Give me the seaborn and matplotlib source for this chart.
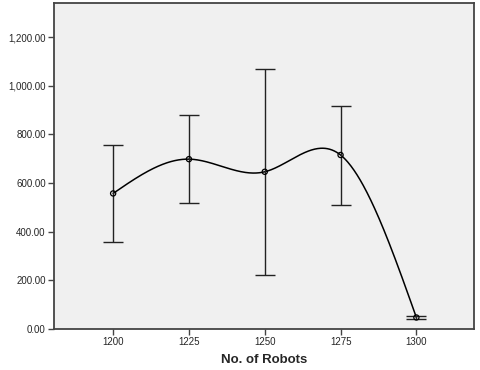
import numpy as np
import pandas as pd
import matplotlib
matplotlib.use("Agg")
import matplotlib.pyplot as plt
import matplotlib.ticker as mticker
import seaborn as sns

robots = [1200, 1225, 1250, 1275, 1300]
mean_val = [557, 698, 646, 715, 47]
upper = [758, 879, 1069, 916, 55]
lower = [357, 516, 223, 510, 40]


def natural_spline(x, y, xs):
    # plain natural cubic spline, like the SPSS interpolation line
    x = np.asarray(x, float)
    y = np.asarray(y, float)
    n = len(x)
    h = np.diff(x)
    A = np.zeros((n, n))
    b = np.zeros(n)
    A[0, 0] = A[-1, -1] = 1
    for i in range(1, n - 1):
        A[i, i - 1] = h[i - 1]
        A[i, i] = 2 * (h[i - 1] + h[i])
        A[i, i + 1] = h[i]
        b[i] = 3 * ((y[i + 1] - y[i]) / h[i] - (y[i] - y[i - 1]) / h[i - 1])
    c = np.linalg.solve(A, b)
    out = np.empty_like(xs)
    for k, xv in enumerate(xs):
        i = min(max(np.searchsorted(x, xv) - 1, 0), n - 2)
        d = xv - x[i]
        bi = (y[i + 1] - y[i]) / h[i] - h[i] * (2 * c[i] + c[i + 1]) / 3
        di = (c[i + 1] - c[i]) / (3 * h[i])
        out[k] = y[i] + bi * d + c[i] * d ** 2 + di * d ** 3
    return out


sns.set_style("ticks")
plt.rcParams["font.family"] = ["Liberation Sans", "DejaVu Sans"]

df = pd.DataFrame({"robots": robots, "mean": mean_val, "upper": upper, "lower": lower})
xs = np.linspace(robots[0], robots[-1], 400)
curve = pd.DataFrame({"robots": xs, "mean": natural_spline(robots, mean_val, xs)})

fig = plt.figure(figsize=(4.8, 3.7), dpi=100)
ax = fig.add_axes([0.1125, 0.111, 0.875, 0.881])
ax.set_facecolor("#f0f0f0")

sns.lineplot(data=curve, x="robots", y="mean", color="black", lw=1.1, ax=ax)
ax.errorbar(df["robots"], df["mean"],
            yerr=[df["mean"] - df["lower"], df["upper"] - df["mean"]],
            fmt="none", ecolor="#222222", elinewidth=1.0, capsize=7, capthick=1.0)
sns.scatterplot(data=df, x="robots", y="mean", marker="o", s=14,
                facecolor="none", edgecolor="black", linewidth=0.9, ax=ax, zorder=5)

ax.set_xlim(1180.5, 1319)
ax.set_ylim(0, 1340)
ax.set_xticks(robots)
ax.set_yticks([0, 200, 400, 600, 800, 1000, 1200])
ax.yaxis.set_major_formatter(mticker.FuncFormatter(lambda v, p: f"{v:,.2f}"))
ax.tick_params(labelsize=7, length=4, width=1, color="#444444", pad=2)
ax.set_xlabel("No. of Robots", fontsize=9.5, fontweight="bold", labelpad=5)
ax.set_ylabel("")
for s in ax.spines.values():
    s.set_visible(True)
    s.set_color("#444444")
    s.set_linewidth(1.3)

fig.savefig("out.png", dpi=100)
